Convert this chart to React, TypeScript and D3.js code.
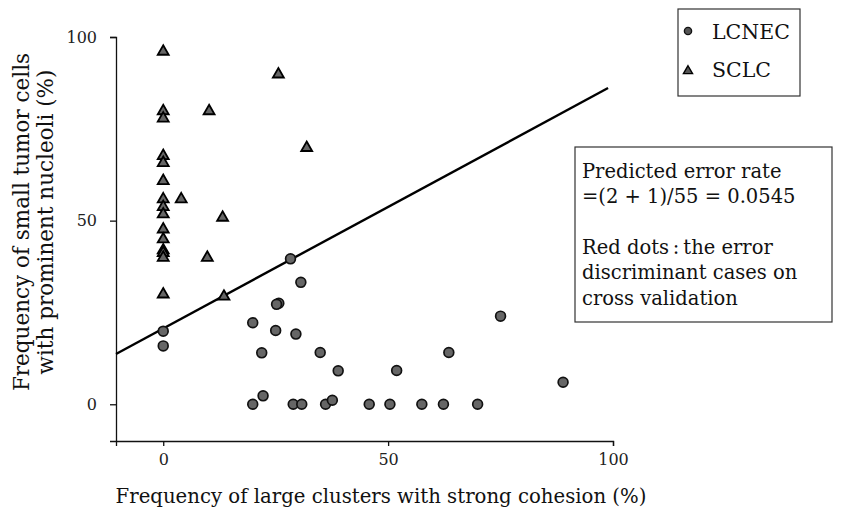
import React, { useRef, useEffect } from "react";
import * as d3 from "d3";

// LCNEC cases (circles)
const lcnecX = [28.3, 30.6, 25.7, 25.2, 19.9, 25.0, 29.5, 0, 0, 21.9, 34.9, 38.9, 22.2, 19.9, 28.9, 30.8, 36.1, 37.6, 75.0, 63.5, 51.9, 88.9, 45.8, 50.4, 57.5, 62.3, 69.9];
const lcnecY = [39.6, 33.2, 27.5, 27.2, 22.2, 20.1, 19.1, 19.9, 15.9, 14.0, 14.1, 9.1, 2.3, 0, 0, 0, 0, 1.1, 24.0, 14.1, 9.2, 6.0, 0, 0, 0, 0, 0];

// SCLC cases (triangles)
const sclcX = [0, 0, 0, 0, 0, 0, 0, 0, 0, 0, 0, 0, 0, 0, 0, 25.6, 10.2, 31.9, 4.0, 13.2, 9.8, 13.5];
const sclcY = [96.3, 80.1, 78.1, 67.9, 66.0, 61.1, 56.1, 54.0, 52.0, 47.9, 45.2, 42.2, 41.5, 40.2, 30.2, 90.1, 80.1, 70.1, 56.1, 51.1, 40.2, 29.6];

// discriminant line
const fitX = [-10.5, 98.9];
const fitY = [13.7, 86.1];

const xTicks = [0, 50, 100];
const yTicks = [0, 50, 100];
const legendLabels = ["LCNEC", "SCLC"];
const noteLines = [
  "Predicted error rate",
  "=(2 + 1)/55 = 0.0545",
  "",
  "Red dots\u202f:\u202fthe error",
  "discriminant cases on",
  "cross validation",
];

const FONT = "'DejaVu Serif', serif";

const App = () => {
  const ref = useRef<SVGSVGElement>(null);

  useEffect(() => {
    const svg = d3.select(ref.current);
    svg.selectAll("*").remove();

    const x = d3.scaleLinear().domain([-10.5, 100]).range([116, 613]);
    const y = d3.scaleLinear().domain([-10, 100]).range([441, 37]);

    const xAxis = d3.axisBottom(x).tickValues(xTicks).tickSize(5).tickSizeOuter(5).tickPadding(8);
    const yAxis = d3.axisLeft(y).tickValues(yTicks).tickSize(6).tickSizeOuter(6).tickPadding(13);

    const gx = svg.append("g").attr("transform", "translate(0,441)").call(xAxis);
    const gy = svg.append("g").attr("transform", "translate(116,0)").call(yAxis);
    [gx, gy].forEach(g => {
      g.selectAll("path,line").attr("stroke", "#111").attr("stroke-width", 1.3);
      g.selectAll("text")
        .attr("fill", "#222")
        .style("font-family", FONT)
        .style("font-size", "16px");
    });

    // fit line
    const line = d3
      .line<number>()
      .x(d => x(d))
      .y((d, i) => y(fitY[i]));
    svg
      .append("path")
      .attr("d", line(fitX))
      .attr("fill", "none")
      .attr("stroke", "#000")
      .attr("stroke-width", 2.4);

    const tri = d3.symbol().type(d3.symbolTriangle).size(52);

    svg
      .append("g")
      .selectAll("path")
      .data(sclcX)
      .enter()
      .append("path")
      .attr("d", tri)
      .attr("transform", (d, i) => `translate(${x(d)},${y(sclcY[i]) + 1})`)
      .attr("fill", "#666")
      .attr("stroke", "#000")
      .attr("stroke-width", 1.8);

    svg
      .append("g")
      .selectAll("circle")
      .data(lcnecX)
      .enter()
      .append("circle")
      .attr("cx", d => x(d))
      .attr("cy", (d, i) => y(lcnecY[i]))
      .attr("r", 4.9)
      .attr("fill", "#666")
      .attr("stroke", "#111")
      .attr("stroke-width", 1.7);

    // legend
    const leg = svg.append("g");
    leg
      .append("rect")
      .attr("x", 678)
      .attr("y", 9)
      .attr("width", 122)
      .attr("height", 87)
      .attr("fill", "#fff")
      .attr("stroke", "#333")
      .attr("stroke-width", 1.2);
    leg
      .append("circle")
      .attr("cx", 688)
      .attr("cy", 31)
      .attr("r", 3.6)
      .attr("fill", "#555")
      .attr("stroke", "#111")
      .attr("stroke-width", 1.4);
    leg
      .append("path")
      .attr("d", d3.symbol().type(d3.symbolTriangle).size(36))
      .attr("transform", "translate(688,71)")
      .attr("fill", "#555")
      .attr("stroke", "#000")
      .attr("stroke-width", 1.4);
    leg
      .selectAll("text")
      .data(legendLabels)
      .enter()
      .append("text")
      .attr("x", 712)
      .attr("y", (d, i) => 39 + i * 38)
      .style("font-family", FONT)
      .style("font-size", "20.5px")
      .attr("fill", "#111")
      .text(d => d);

    // note box
    const note = svg.append("g");
    note
      .append("rect")
      .attr("x", 575)
      .attr("y", 147)
      .attr("width", 257)
      .attr("height", 175)
      .attr("fill", "#fff")
      .attr("stroke", "#333")
      .attr("stroke-width", 1.2);
    note
      .selectAll("text")
      .data(noteLines)
      .enter()
      .append("text")
      .attr("x", 582)
      .attr("y", (d, i) => 178 + i * 25.3)
      .style("font-family", FONT)
      .style("font-size", "19.5px")
      .attr("fill", "#111")
      .text(d => d);

    // axis titles
    svg
      .append("text")
      .attr("x", 381)
      .attr("y", 503)
      .attr("text-anchor", "middle")
      .style("font-family", FONT)
      .style("font-size", "19.7px")
      .attr("fill", "#111")
      .text("Frequency of large clusters with strong cohesion (%)");

    const yl = svg.append("g").attr("transform", "translate(0,222) rotate(-90)");
    ["Frequency of small tumor cells", "with prominent nucleoli (%)"].forEach((t, i) => {
      yl.append("text")
        .attr("x", 0)
        .attr("y", 29 + i * 24)
        .attr("text-anchor", "middle")
        .style("font-family", FONT)
        .style("font-size", "21.5px")
        .attr("fill", "#111")
        .text(t);
    });
  }, []);

  return (
    <svg
      ref={ref}
      width={843}
      height={523}
      style={{ position: "absolute", left: 0, top: 0, background: "#fff" }}
    />
  );
};

export default App;
